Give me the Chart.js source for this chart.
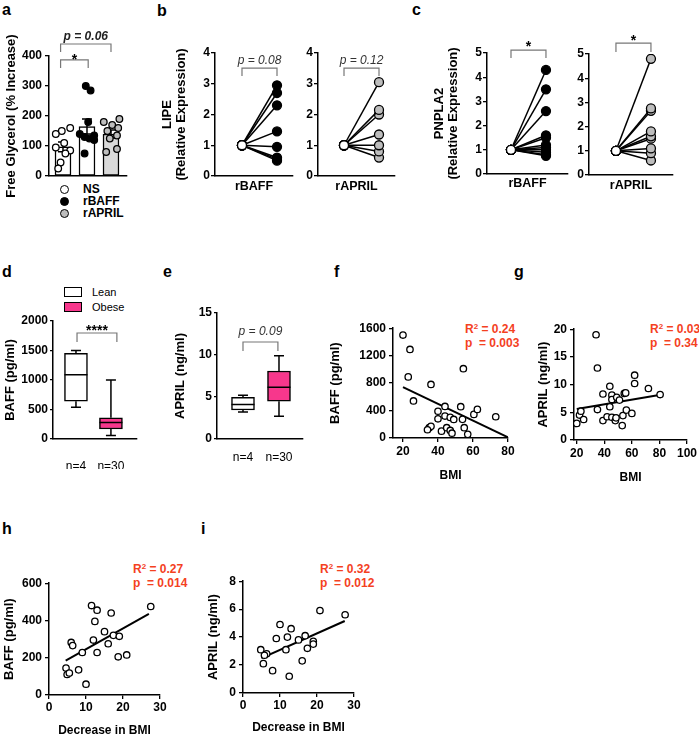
<!DOCTYPE html>
<html>
<head>
<meta charset="utf-8">
<title>BAFF / APRIL panels</title>
<script src="https://cdn.jsdelivr.net/npm/chart.js@4.4.1/dist/chart.umd.min.js"></script>
<style>
  html, body { margin: 0; padding: 0; background: #fff; }
  body { position: relative; width: 699px; height: 736px; overflow: hidden; font-family: 'Liberation Sans', Arial, sans-serif; color: #000; }
  canvas { position: absolute; }
  .tag { position: absolute; font-size: 16px; font-weight: bold; line-height: 16px; }
  .stat { position: absolute; color: #f4411f; font-size: 12px; font-weight: bold; line-height: 14px; white-space: pre; }
  .stat sup { font-size: 8px; line-height: 0; vertical-align: 4px; }
  .leg { position: absolute; font-size: 12px; line-height: 12px; white-space: nowrap; }
  .dot { position: absolute; width: 9px; height: 9px; box-sizing: border-box; border: 1.5px solid #000; border-radius: 50%; }
  .key { position: absolute; width: 18px; height: 10px; box-sizing: border-box; border: 1.5px solid #000; }
</style>
</head>
<body>
<div class="tag" style="left:2px;top:2px">a</div>
<div class="tag" style="left:157px;top:3px">b</div>
<div class="tag" style="left:412px;top:2px">c</div>
<div class="tag" style="left:2px;top:264px">d</div>
<div class="tag" style="left:163px;top:264px">e</div>
<div class="tag" style="left:334px;top:264px">f</div>
<div class="tag" style="left:514px;top:264px">g</div>
<div class="tag" style="left:2px;top:521px">h</div>
<div class="tag" style="left:201px;top:521px">i</div>

<!-- legend a -->
<div class="dot" style="left:60px;top:185px;background:#fff"></div>
<div class="leg" style="left:83px;top:183px;font-weight:bold">NS</div>
<div class="dot" style="left:60px;top:197px;background:#000"></div>
<div class="leg" style="left:83px;top:195px;font-weight:bold">rBAFF</div>
<div class="dot" style="left:60px;top:209px;background:#bdbdbd"></div>
<div class="leg" style="left:83px;top:207px;font-weight:bold">rAPRIL</div>

<!-- legend d -->
<div class="key" style="left:64px;top:287px;background:#fff"></div>
<div class="leg" style="left:92px;top:286px;font-size:11px">Lean</div>
<div class="key" style="left:64px;top:302px;background:#f7378c"></div>
<div class="leg" style="left:92px;top:301px;font-size:11px">Obese</div>

<div class="stat" style="left:465px;top:322px">R<sup>2</sup> = 0.24
p  = 0.003</div>
<div class="stat" style="left:650px;top:322px">R<sup>2</sup> = 0.03
p  = 0.34</div>
<div class="stat" style="left:133px;top:562px">R<sup>2</sup> = 0.27
p  = 0.014</div>
<div class="stat" style="left:320px;top:562px">R<sup>2</sup> = 0.32
p  = 0.012</div>

<script>
// a: free glycerol
const groupsA = ['NS', 'rBAFF', 'rAPRIL'];
const glycerolNS = [160, 150, 140, 110, 95, 85, 75, 45, 25];
const glycerolBAFF = [300, 285, 180, 140, 135, 130, 125, 120, 75];
const glycerolAPRIL = [190, 180, 170, 160, 150, 135, 125, 90, 80];
const jitterNS = [0.3, -0.05, -0.3, 0.05, -0.3, 0.3, 0.1, -0.1, -0.2];
const jitterBAFF = [-0.05, 0.15, 0.05, -0.3, 0.3, -0.1, 0.1, 0.3, -0.1];
const jitterAPRIL = [0.35, -0.3, 0.05, 0.3, -0.15, 0.25, -0.05, 0.25, -0.2];
const glycerolMean = [97, 165, 140];
const glycerolSem = [16, 25, 13];
const glycerolTicks = [0, 100, 200, 300, 400];

// b, c: paired expression (NS normalised to 1)
const nsBaseline = 1;
const lipeBAFF = [2.95, 2.7, 2.3, 1.45, 0.95, 0.6, 0.55, 0.5];
const lipeAPRIL = [3.05, 2.15, 2.0, 1.35, 1.0, 0.8, 0.6];
const pnplaBAFF = [4.3, 3.5, 2.6, 1.6, 1.5, 1.2, 1.1, 1.0, 0.9, 0.8, 0.75];
const pnplaAPRIL = [4.8, 2.75, 2.65, 1.8, 1.6, 1.5, 1.1, 0.9, 0.6];
const lipeTicks = [0, 1, 2, 3, 4];
const pnplaTicks = [0, 1, 2, 3, 4, 5];

// d, e: box plots, Lean vs Obese
const sizeLabels = ['n=4', 'n=30'];
const baffMin = [540, 60];
const baffQ1 = [640, 170];
const baffMed = [1090, 280];
const baffQ3 = [1450, 360];
const baffMax = [1500, 1000];
const baffTicks = [0, 500, 1000, 1500, 2000];
const aprilMin = [3.2, 2.7];
const aprilQ1 = [3.45, 4.5];
const aprilMed = [4.1, 6.15];
const aprilQ3 = [4.96, 8.1];
const aprilMax = [5.2, 9.9];
const aprilTicks = [0, 5, 10, 15];

// f, g: BMI correlations
const fBmi = [20, 24, 23, 26, 36, 40, 44, 40, 44, 47, 49, 35, 36, 34, 42, 45, 47, 48, 53, 54.5, 54, 55, 57, 60.5, 62.5, 73];
const fBaff = [1500, 1290, 890, 540, 780, 390, 460, 280, 320, 300, 270, 150, 170, 120, 100, 150, 110, 70, 456, 1010, 272, 150, 53, 344, 417, 310];
const fFitX = [20, 80];
const fFitY = [740, 10];
const fTicksX = [20, 40, 60, 80];
const fTicksY = [0, 400, 800, 1200, 1600];
const gBmi = [34, 35, 20, 22, 23, 25, 35, 39, 39, 44, 42, 44, 45.5, 45.5, 45.5, 49, 48, 48.5, 51, 53.5, 53, 54.5, 55.5, 56, 60, 62, 62, 72, 80.5];
const gApril = [19, 13, 3.0, 4.5, 5.2, 3.7, 5.5, 8.3, 3.5, 9.7, 4.2, 6.0, 8.1, 7.3, 4.1, 7.7, 3.5, 4.0, 7.2, 4.4, 2.6, 8.4, 8.5, 5.4, 4.8, 11.7, 10.2, 9.3, 8.2];
const gFitX = [20, 82];
const gFitY = [5.6, 8.2];
const gTicksX = [20, 40, 60, 80, 100];
const gTicksY = [0, 5, 10, 15, 20];

// h, i: decrease in BMI
const hDec = [11.5, 13, 16.8, 27.5, 12.4, 15, 17.4, 19, 12, 16, 6, 6.4, 9, 13, 18.7, 21, 4.6, 4.9, 5.5, 8, 10];
const hBaff = [480, 455, 440, 475, 395, 340, 320, 315, 295, 275, 282, 265, 228, 228, 205, 215, 145, 110, 118, 135, 58];
const hFitX = [4.5, 27];
const hFitY = [185, 435];
const hTicksY = [0, 200, 400, 600];
const iDec = [10, 13, 20.8, 27.6, 9, 12, 15, 16.8, 19, 19, 17.4, 11.6, 4.8, 6.4, 5.8, 5.5, 16, 8, 12.5];
const iApril = [4.9, 4.6, 5.9, 5.6, 3.9, 4.0, 3.8, 4.1, 3.7, 3.5, 3.2, 3.1, 3.1, 2.8, 2.7, 2.1, 2.3, 1.6, 1.2];
const iFitX = [5, 27.5];
const iFitY = [2.5, 5.15];
const iTicksY = [0, 2, 4, 6, 8];
const decTicks = [0, 10, 20, 30];

const FAMILY = "'Liberation Sans', Arial, sans-serif";
const PINK = '#f7378c';
const GREY = '#bdbdbd';
Chart.defaults.font.family = FAMILY;
Chart.defaults.color = '#000';

const TICK_FONT = {size: 12, weight: 'bold'};

// error bars, whiskers and significance brackets, all through the chart scales
Chart.register({
    id: 'extras',
    afterDatasetDraw(chart, args, opts) {
        if (args.meta.type !== 'bar') return;
        const ctx = chart.ctx, xs = chart.scales.x, ys = chart.scales.y;
        ctx.save();
        ctx.strokeStyle = '#000';
        ctx.lineWidth = 1.5;
        (opts.errors || []).forEach(e => {
            const x = xs.getPixelForValue(e.x);
            const y1 = ys.getPixelForValue(e.lo), y2 = ys.getPixelForValue(e.hi);
            ctx.beginPath();
            ctx.moveTo(x, y1); ctx.lineTo(x, y2);
            ctx.moveTo(x - e.cap, y1); ctx.lineTo(x + e.cap, y1);
            ctx.moveTo(x - e.cap, y2); ctx.lineTo(x + e.cap, y2);
            ctx.stroke();
        });
        (opts.boxes || []).forEach(b => {
            const x = xs.getPixelForValue(b.x);
            const py = v => ys.getPixelForValue(v);
            ctx.beginPath();
            ctx.moveTo(x, py(b.q3)); ctx.lineTo(x, py(b.max));
            ctx.moveTo(x - b.cap, py(b.max)); ctx.lineTo(x + b.cap, py(b.max));
            ctx.moveTo(x, py(b.q1)); ctx.lineTo(x, py(b.min));
            ctx.moveTo(x - b.cap, py(b.min)); ctx.lineTo(x + b.cap, py(b.min));
            ctx.moveTo(x - b.half, py(b.med)); ctx.lineTo(x + b.half, py(b.med));
            ctx.stroke();
        });
        ctx.restore();
    },
    afterDraw(chart, args, opts) {
        const ctx = chart.ctx, xs = chart.scales.x, ys = chart.scales.y;
        (opts.brackets || []).forEach(b => {
            const x1 = xs.getPixelForValue(b.x1), x2 = xs.getPixelForValue(b.x2);
            const y = ys.getPixelForValue(b.y), yl = ys.getPixelForValue(b.y - b.legs);
            ctx.save();
            ctx.strokeStyle = '#777';
            ctx.lineWidth = 1.2;
            ctx.beginPath();
            ctx.moveTo(x1, yl); ctx.lineTo(x1, y); ctx.lineTo(x2, y); ctx.lineTo(x2, yl);
            ctx.stroke();
            ctx.fillStyle = b.color || '#000';
            ctx.font = b.font + ' ' + FAMILY;
            ctx.textAlign = 'center';
            ctx.textBaseline = 'alphabetic';
            ctx.fillText(b.text, (x1 + x2) / 2, ys.getPixelForValue(b.ty));
            ctx.restore();
        });
    }
});

function yScale(o) {
    return {
        type: 'linear', min: o.min, max: o.max,
        afterBuildTicks: s => { s.ticks = o.ticks.map(v => ({value: v})); },
        afterFit: s => { s.width = o.w; },
        grid: {drawOnChartArea: false, tickLength: o.tl || 4, color: '#000', lineWidth: 1.3},
        border: {color: '#000', width: 1.5},
        ticks: {font: TICK_FONT, padding: o.pad === undefined ? 3 : o.pad, callback: v => String(v)},
        title: o.title ? {display: true, text: o.title, padding: 0,
            font: {size: 13, weight: 'bold', lineHeight: '14px'}} : {display: false}
    };
}

function xScale(o) {
    const s = {
        type: 'linear', min: o.min, max: o.max, offset: false,
        afterFit: sc => { sc.height = o.h; },
        grid: {display: !!o.marks, drawOnChartArea: false, tickLength: 4, color: '#000', lineWidth: 1.3, offset: false},
        border: {color: '#000', width: 1.5},
        ticks: {display: !!o.ticks, font: o.font || TICK_FONT, padding: o.pad === undefined ? 3 : o.pad,
            maxRotation: 0, autoSkip: false, callback: o.fmt || (v => String(v))},
        title: o.title ? {display: true, text: o.title, padding: 0,
            font: {size: o.titleSize || 12, weight: 'bold', lineHeight: '14px'}} : {display: false}
    };
    if (o.ticks) s.afterBuildTicks = sc => { sc.ticks = o.ticks.map(v => ({value: v})); };
    return s;
}

// area = [left, top, right, bottom] of the plot area on the page
function panel(area, yw, xh, pt, pr, type, datasets, scales, extras) {
    const c = document.createElement('canvas');
    const W = area[2] - area[0] + yw + pr, H = area[3] - area[1] + pt + xh;
    c.width = W; c.height = H;
    c.style.left = (area[0] - yw) + 'px';
    c.style.top = (area[1] - pt) + 'px';
    c.style.width = W + 'px';
    c.style.height = H + 'px';
    document.body.appendChild(c);
    return new Chart(c, {
        type: type,
        data: {datasets: datasets},
        options: {
            responsive: false, animation: false, devicePixelRatio: 1,
            layout: {padding: {left: 0, top: pt, right: pr, bottom: 0}, autoPadding: false},
            plugins: {legend: {display: false}, tooltip: {enabled: false}, extras: extras || {}},
            scales: scales
        }
    });
}

function dots(data, fill, r, order) {
    return {type: 'scatter', order: order, data: data, pointRadius: r, pointBorderWidth: 1.3,
        pointBorderColor: '#000', pointBackgroundColor: fill, showLine: false};
}

// ---- a
const groupVals = [glycerolNS, glycerolBAFF, glycerolAPRIL];
const groupJit = [jitterNS, jitterBAFF, jitterAPRIL];
const groupFill = ['#fff', '#000', GREY];
const setsA = [{
    type: 'bar', order: 10,
    data: groupsA.map((g, i) => ({x: i, y: glycerolMean[i]})),
    backgroundColor: ['#fff', '#fff', '#d9d9d9'], borderColor: '#000', borderWidth: 1.5,
    barThickness: 16, borderSkipped: false
}];
groupVals.forEach((vals, i) => {
    setsA.push(dots(vals.map((v, k) => ({x: i + groupJit[i][k], y: v})), groupFill[i], 3.3, i));
});
panel([49, 56, 127, 176], 45, 30, 30, 5, 'bar', setsA, {
    x: xScale({min: -0.583, max: 2.667, h: 30}),
    y: yScale({min: 0, max: 400, ticks: glycerolTicks, w: 45, title: 'Free Glycerol (% Increase)'})
}, {
    errors: groupsA.map((g, i) => ({x: i, lo: glycerolMean[i] - glycerolSem[i], hi: glycerolMean[i] + glycerolSem[i], cap: 5})),
    brackets: [
        {x1: -0.1, x2: 1.05, y: 387, legs: 27, text: '*', ty: 375, font: 'bold 14px'},
        {x1: -0.1, x2: 2, y: 440, legs: 27, text: 'p = 0.06', ty: 453, font: 'italic bold 12px', color: '#222'}
    ]
});

// ---- b, c
function paired(values, fill) {
    const sets = values.map(v => ({
        type: 'scatter', order: 1, showLine: true,
        data: [{x: 0, y: nsBaseline}, {x: 1, y: v}],
        borderColor: '#000', borderWidth: 1.5,
        pointRadius: 4.5, pointBorderWidth: 1.3, pointBorderColor: '#000',
        pointBackgroundColor: ['#fff', fill]
    }));
    sets.push(dots([{x: 0, y: nsBaseline}], '#fff', 4.5, 0));
    return sets;
}

panel([215, 53, 293, 176], 55, 18, 15, 5, 'scatter', paired(lipeBAFF, '#000'), {
    x: xScale({min: -0.771, max: 1.457, h: 18, title: 'rBAFF', titleSize: 12.5}),
    y: yScale({min: 0, max: 4, ticks: lipeTicks, w: 55, pad: 1, title: ['LIPE', '(Relative Expression)']})
}, {brackets: [{x1: 0, x2: 1, y: 3.51, legs: 0.26, text: 'p = 0.08', ty: 3.64, font: 'italic 12px', color: '#333'}]});

panel([318, 53, 395, 176], 16, 18, 15, 5, 'scatter', paired(lipeAPRIL, GREY), {
    x: xScale({min: -0.743, max: 1.457, h: 18, title: 'rAPRIL', titleSize: 12.5}),
    y: yScale({min: 0, max: 4, ticks: lipeTicks, w: 16, pad: 1})
}, {brackets: [{x1: 0, x2: 1, y: 3.51, legs: 0.26, text: 'p = 0.12', ty: 3.64, font: 'italic 12px', color: '#333'}]});

panel([487, 53, 568, 174], 55, 17, 20, 5, 'scatter', paired(pnplaBAFF, '#000'), {
    x: xScale({min: -0.686, max: 1.63, h: 17, title: 'rBAFF', titleSize: 12.5}),
    y: yScale({min: 0, max: 5, ticks: pnplaTicks, w: 55, pad: 1, title: ['PNPLA2', '(Relative Expression)']})
}, {brackets: [{x1: 0, x2: 1, y: 5.12, legs: 0.33, text: '*', ty: 5.08, font: 'bold 14px'}]});

panel([589, 54, 673, 175], 16, 18, 25, 5, 'scatter', paired(pnplaAPRIL, GREY), {
    x: xScale({min: -0.77, max: 1.63, h: 18, title: 'rAPRIL', titleSize: 12.5}),
    y: yScale({min: 0, max: 5, ticks: pnplaTicks, w: 16, pad: 1})
}, {brackets: [{x1: 0, x2: 1, y: 5.45, legs: 0.37, text: '*', ty: 5.37, font: 'bold 14px'}]});

// ---- d, e
function boxSet(q1, q3) {
    return [{
        type: 'bar', order: 1,
        data: sizeLabels.map((n, i) => ({x: i, y: [q1[i], q3[i]]})),
        backgroundColor: ['#fff', PINK], borderColor: '#000', borderWidth: 1.5,
        barThickness: 23, borderSkipped: false
    }];
}
function boxSpecs(mn, q1, md, q3, mx) {
    return sizeLabels.map((n, i) => ({x: i, min: mn[i], q1: q1[i], med: md[i], q3: q3[i], max: mx[i], half: 11.5, cap: 5}));
}

panel([53, 321, 137, 439], 50, 30, 10, 5, 'bar', boxSet(baffQ1, baffQ3), {
    x: xScale({min: -0.657, max: 1.743, h: 30, ticks: [0, 1], pad: 16, fmt: v => sizeLabels[v], font: {size: 12}}),
    y: yScale({min: 0, max: 2000, ticks: baffTicks, w: 50, tl: 3, pad: 2, title: 'BAFF (pg/ml)'})
}, {
    boxes: boxSpecs(baffMin, baffQ1, baffMed, baffQ3, baffMax),
    brackets: [{x1: 0.03, x2: 1.17, y: 1797, legs: 153, text: '****', ty: 1763, font: 'bold 14px'}]
});

panel([217, 313, 303, 439], 44, 30, 10, 5, 'bar', boxSet(aprilQ1, aprilQ3), {
    x: xScale({min: -0.722, max: 1.667, h: 30, ticks: [0, 1], pad: 7, fmt: v => sizeLabels[v], font: {size: 12}}),
    y: yScale({min: 0, max: 15, ticks: aprilTicks, w: 44, tl: 3, pad: 2, title: 'APRIL (ng/ml)'})
}, {
    boxes: boxSpecs(aprilMin, aprilQ1, aprilMed, aprilQ3, aprilMax),
    brackets: [{x1: 0, x2: 0.97, y: 11.55, legs: 1.07, text: 'p = 0.09', ty: 12.38, font: 'italic 12px', color: '#333'}]
});

// ---- f, g, h, i
function corr(xv, yv, fx, fy) {
    return [
        dots(xv.map((x, i) => ({x: x, y: yv[i]})), '#fff', 3.2, 0),
        {type: 'line', order: 1, data: fx.map((x, i) => ({x: x, y: fy[i]})),
            borderColor: '#000', borderWidth: 2, pointRadius: 0}
    ];
}

panel([393, 328, 508, 438], 65, 45, 10, 10, 'scatter', corr(fBmi, fBaff, fFitX, fFitY), {
    x: xScale({min: 14.3, max: 80, h: 45, ticks: fTicksX, marks: true, pad: 2, title: 'BMI'}),
    y: yScale({min: 0, max: 1600, ticks: fTicksY, w: 65, title: 'BAFF (pg/ml)'})
});

panel([574, 329, 690, 440], 38, 45, 10, 9, 'scatter', corr(gBmi, gApril, gFitX, gFitY), {
    x: xScale({min: 18, max: 100, h: 45, ticks: gTicksX, marks: true, pad: 2, title: 'BMI'}),
    y: yScale({min: 0, max: 20, ticks: gTicksY, w: 38, title: 'APRIL (ng/ml)'})
});

panel([49, 583, 160, 695], 47, 43, 10, 10, 'scatter', corr(hDec, hBaff, hFitX, hFitY), {
    x: xScale({min: 0, max: 30, h: 43, ticks: decTicks, marks: true, pad: 1, title: 'Decrease in BMI'}),
    y: yScale({min: 0, max: 600, ticks: hTicksY, w: 47, title: 'BAFF (pg/ml)'})
});

panel([243, 581, 354, 693], 37, 42, 10, 10, 'scatter', corr(iDec, iApril, iFitX, iFitY), {
    x: xScale({min: 0, max: 30, h: 42, ticks: decTicks, marks: true, pad: 1, title: 'Decrease in BMI'}),
    y: yScale({min: 0, max: 8, ticks: iTicksY, w: 37, title: 'APRIL (ng/ml)'})
});
</script>
</body>
</html>
